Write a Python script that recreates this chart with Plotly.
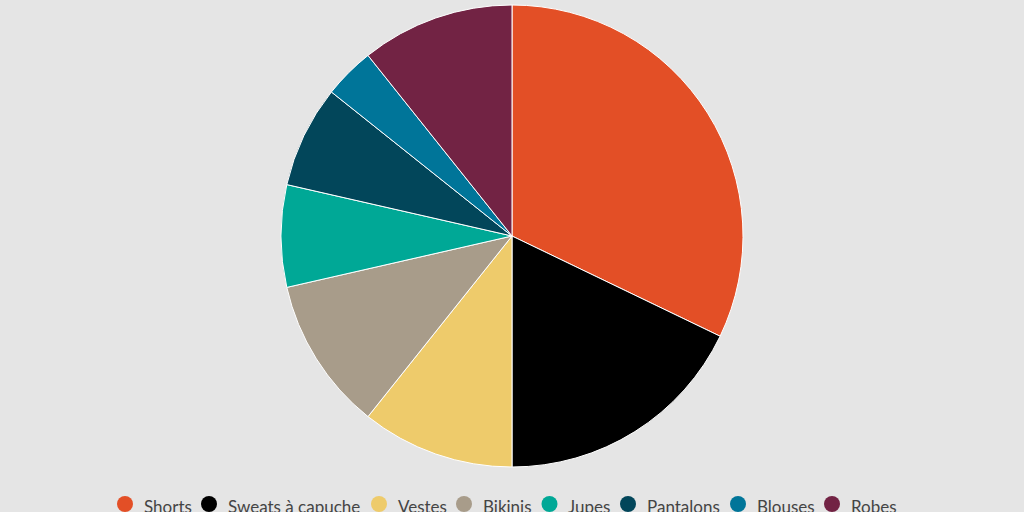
import plotly.graph_objects as go

labels = ["Shorts", "Sweats à capuche", "Vestes", "Bikinis", "Jupes", "Pantalons", "Blouses", "Robes"]
values = [9, 5, 3, 3, 2, 2, 1, 3]
colors = ["#e34f26", "#000000", "#eecb6b", "#a89c8a", "#00a896", "#02465a", "#007599", "#722344"]

# legend layout (pixel x of each legend marker centre)
legend_px = [125, 209, 379, 464, 549.5, 628, 738, 832]
W, H = 1024, 512
M_T, M_B = 5, 45
PLOT_H = H - M_T - M_B
LEG_DOT_Y_PX = 504
LEG_TXT_Y_PX = 506

def xp(px):
    return px / W

def yp(py):
    return (H - M_B - py) / PLOT_H

fig = go.Figure()
fig.add_trace(go.Pie(
    labels=labels, values=values, sort=False, direction="clockwise", rotation=0,
    marker=dict(colors=colors, line=dict(color="#ffffff", width=1)),
    textinfo="none", hoverinfo="label+value+percent", showlegend=False,
))

shapes = []
annotations = []
for lab, col, px in zip(labels, colors, legend_px):
    shapes.append(dict(type="circle", xref="paper", yref="paper",
                       x0=xp(px - 8), x1=xp(px + 8), y0=yp(LEG_DOT_Y_PX + 8), y1=yp(LEG_DOT_Y_PX - 8),
                       fillcolor=col, line=dict(width=0), layer="above"))
    annotations.append(dict(text=lab, xref="paper", yref="paper", x=xp(px + 16.5), y=yp(LEG_TXT_Y_PX),
                            xanchor="left", yanchor="middle", showarrow=False,
                            font=dict(family="Lato", size=17, color="#444444")))

fig.update_layout(
    width=W, height=H,
    paper_bgcolor="#e5e5e5", plot_bgcolor="#e5e5e5",
    margin=dict(l=0, r=0, t=M_T, b=M_B),
    xaxis=dict(visible=False), yaxis=dict(visible=False),
    shapes=shapes, annotations=annotations,
)
fig.write_html("out.html", config={"displayModeBar": False},
               post_script="document.body.style.margin='0';document.body.style.overflow='hidden';")
